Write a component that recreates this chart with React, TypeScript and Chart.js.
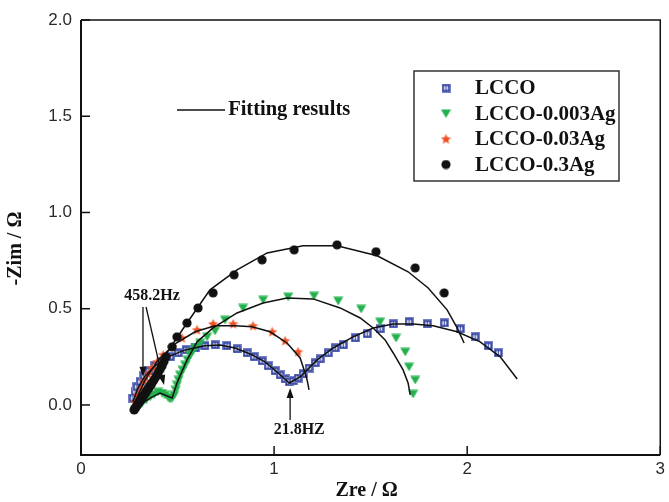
import React, { useEffect, useRef } from 'react';
import { Chart, registerables } from 'chart.js';

Chart.register(...registerables);

// ---------- axes ----------
const X_TICKS = [0, 1, 2, 3];
const X_TICK_LABELS = ['0', '1', '2', '3'];
const Y_TICKS = [0, 0.5, 1, 1.5, 2];
const Y_TICK_LABELS = ['0.0', '0.5', '1.0', '1.5', '2.0'];
const X_MIN = 0;
const X_MAX = 3;
const Y_MIN = -0.26;
const Y_MAX = 2.0;
const X_TITLE = 'Zre / Ω';
const Y_TITLE = '-Zim / Ω';

// ---------- series ----------
const SERIES_LABELS = ['LCCO', 'LCCO-0.003Ag', 'LCCO-0.03Ag', 'LCCO-0.3Ag'];

const LCCO_X = [0.269, 0.280, 0.290, 0.306, 0.326, 0.352, 0.383, 0.420, 0.461, 0.503, 0.544, 0.591, 0.642, 0.694, 0.756, 0.808, 0.860, 0.896, 0.938, 0.969, 1.005, 1.031, 1.057, 1.078, 1.098, 1.124, 1.150, 1.181, 1.212, 1.238, 1.280, 1.316, 1.358, 1.420, 1.482, 1.549, 1.617, 1.699, 1.793, 1.881, 1.964, 2.041, 2.109, 2.161];
const LCCO_Y = [0.036, 0.068, 0.094, 0.120, 0.151, 0.177, 0.203, 0.224, 0.250, 0.270, 0.286, 0.296, 0.307, 0.312, 0.307, 0.291, 0.270, 0.250, 0.229, 0.203, 0.177, 0.156, 0.135, 0.120, 0.125, 0.140, 0.161, 0.192, 0.218, 0.239, 0.270, 0.296, 0.312, 0.348, 0.369, 0.395, 0.421, 0.432, 0.421, 0.426, 0.395, 0.354, 0.307, 0.270];
const LCCO_FIT_X = [0.269, 0.295, 0.332, 0.383, 0.451, 0.539, 0.642, 0.720, 0.798, 0.876, 0.953, 1.021, 1.078, 1.135, 1.223, 1.306, 1.409, 1.513, 1.617, 1.720, 1.824, 1.948, 2.067, 2.171, 2.259];
const LCCO_FIT_Y = [0.016, 0.088, 0.151, 0.203, 0.250, 0.286, 0.307, 0.312, 0.296, 0.265, 0.224, 0.166, 0.114, 0.146, 0.234, 0.296, 0.354, 0.400, 0.421, 0.421, 0.411, 0.380, 0.328, 0.250, 0.135];

const AG003_X = [0.280, 0.295, 0.316, 0.337, 0.358, 0.378, 0.399, 0.420, 0.435, 0.451, 0.461, 0.472, 0.482, 0.490, 0.497, 0.505, 0.513, 0.526, 0.539, 0.552, 0.565, 0.578, 0.591, 0.617, 0.653, 0.694, 0.746, 0.839, 0.943, 1.073, 1.207, 1.332, 1.451, 1.549, 1.632, 1.679, 1.699, 1.731, 1.720];
const AG003_Y = [-0.026, -0.010, 0.010, 0.026, 0.042, 0.055, 0.068, 0.062, 0.052, 0.040, 0.031, 0.036, 0.052, 0.078, 0.104, 0.130, 0.156, 0.182, 0.208, 0.234, 0.260, 0.278, 0.296, 0.322, 0.354, 0.385, 0.442, 0.504, 0.546, 0.562, 0.567, 0.541, 0.499, 0.432, 0.348, 0.276, 0.198, 0.130, 0.057];
const AG003_FIT_X = [0.280, 0.358, 0.409, 0.472, 0.497, 0.549, 0.601, 0.684, 0.808, 0.943, 1.067, 1.202, 1.342, 1.446, 1.513, 1.575, 1.617, 1.668, 1.694, 1.705];
const AG003_FIT_Y = [-0.016, 0.036, 0.062, 0.036, 0.114, 0.234, 0.328, 0.400, 0.478, 0.530, 0.556, 0.551, 0.504, 0.452, 0.400, 0.338, 0.270, 0.182, 0.114, 0.052];

const AG03_X = [0.280, 0.295, 0.311, 0.326, 0.347, 0.368, 0.394, 0.425, 0.472, 0.523, 0.601, 0.684, 0.788, 0.891, 0.990, 1.057, 1.124];
const AG03_Y = [0.016, 0.052, 0.088, 0.125, 0.161, 0.192, 0.224, 0.260, 0.302, 0.348, 0.390, 0.421, 0.421, 0.411, 0.380, 0.333, 0.276];
const AG03_FIT_X = [0.280, 0.332, 0.399, 0.487, 0.591, 0.694, 0.798, 0.886, 0.979, 1.067, 1.135, 1.150, 1.171, 1.181];
const AG03_FIT_Y = [0.016, 0.130, 0.234, 0.317, 0.380, 0.411, 0.411, 0.406, 0.380, 0.322, 0.244, 0.198, 0.130, 0.078];

const AG3_X = [0.275, 0.280, 0.285, 0.290, 0.295, 0.300, 0.306, 0.311, 0.316, 0.321, 0.326, 0.332, 0.337, 0.342, 0.347, 0.352, 0.358, 0.363, 0.368, 0.378, 0.389, 0.399, 0.410, 0.420, 0.430, 0.440, 0.472, 0.497, 0.549, 0.606, 0.684, 0.793, 0.938, 1.104, 1.326, 1.528, 1.731, 1.881];
const AG3_Y = [-0.026, -0.018, -0.010, -0.003, 0.005, 0.012, 0.020, 0.028, 0.036, 0.044, 0.052, 0.060, 0.068, 0.076, 0.083, 0.091, 0.099, 0.107, 0.115, 0.130, 0.148, 0.166, 0.185, 0.203, 0.226, 0.250, 0.302, 0.354, 0.426, 0.504, 0.582, 0.676, 0.754, 0.806, 0.832, 0.796, 0.712, 0.582];
const AG3_FIT_X = [0.275, 0.332, 0.399, 0.461, 0.549, 0.668, 0.808, 0.964, 1.150, 1.326, 1.534, 1.694, 1.798, 1.896, 1.948, 1.984];
const AG3_FIT_Y = [-0.026, 0.078, 0.192, 0.296, 0.426, 0.598, 0.702, 0.790, 0.827, 0.827, 0.775, 0.692, 0.608, 0.494, 0.400, 0.322];

// ---------- annotations (data coordinates) ----------
const FIT_LABEL = 'Fitting results';
const FIT_LABEL_LINE = [[0.497, 1.533], [0.746, 1.533]];
const FIT_LABEL_POS = [0.762, 1.533];
const HZ1_LABEL = '458.2Hz';
const HZ1_POS = [0.368, 0.567];
const HZ1_ARROWS = [
  [[0.321, 0.509], [0.321, 0.146]],
  [[0.337, 0.509], [0.430, 0.104]],
];
const HZ2_LABEL = '21.8HZ';
const HZ2_POS = [1.130, -0.130];
const HZ2_ARROW = [[1.083, -0.078], [1.083, 0.088]];

const toPts = (xs: number[], ys: number[]) => xs.map((x, i) => ({ x, y: ys[i] }));

function makeMarkers() {
  const mk = (w: number, h: number, draw: (c: CanvasRenderingContext2D) => void) => {
    const c = document.createElement('canvas');
    c.width = w;
    c.height = h;
    const ctx = c.getContext('2d')!;
    draw(ctx);
    return c;
  };
  const square = mk(9, 9, (c) => {
    c.fillStyle = '#7682c8';
    c.fillRect(0, 0, 9, 9);
    c.fillStyle = '#2a3a9a';
    c.fillRect(1, 1, 7, 7);
    c.fillStyle = '#ffffff';
    c.fillRect(2.5, 2.5, 1.5, 4);
    c.fillRect(5, 2.5, 1.5, 4);
  });
  const tri = mk(11, 9, (c) => {
    c.fillStyle = '#22b14c';
    c.beginPath();
    c.moveTo(0.5, 0.5);
    c.lineTo(10.5, 0.5);
    c.lineTo(5.5, 9);
    c.closePath();
    c.fill();
  });
  const star = mk(11, 11, (c) => {
    c.fillStyle = '#f25022';
    c.beginPath();
    const cx = 5.5, cy = 5.8, R = 5.4, r = 2.4;
    for (let i = 0; i < 10; i++) {
      const a = -Math.PI / 2 + (i * Math.PI) / 5;
      const rr = i % 2 === 0 ? R : r;
      const px = cx + rr * Math.cos(a);
      const py = cy + rr * Math.sin(a);
      if (i === 0) c.moveTo(px, py);
      else c.lineTo(px, py);
    }
    c.closePath();
    c.fill();
  });
  const dot = mk(10, 10, (c) => {
    c.fillStyle = '#111111';
    c.beginPath();
    c.arc(5, 5, 4.6, 0, Math.PI * 2);
    c.fill();
  });
  return [square, tri, star, dot];
}

function arrow(ctx: CanvasRenderingContext2D, x1: number, y1: number, x2: number, y2: number) {
  const a = Math.atan2(y2 - y1, x2 - x1);
  const L = 10, W = 3.5;
  ctx.beginPath();
  ctx.moveTo(x1, y1);
  ctx.lineTo(x2 - (L - 2) * Math.cos(a), y2 - (L - 2) * Math.sin(a));
  ctx.stroke();
  ctx.beginPath();
  ctx.moveTo(x2, y2);
  ctx.lineTo(x2 - L * Math.cos(a) + W * Math.sin(a), y2 - L * Math.sin(a) - W * Math.cos(a));
  ctx.lineTo(x2 - L * Math.cos(a) - W * Math.sin(a), y2 - L * Math.sin(a) + W * Math.cos(a));
  ctx.closePath();
  ctx.fill();
}

export default function App() {
  const ref = useRef<HTMLCanvasElement>(null);

  useEffect(() => {
    const canvas = ref.current!;
    const markers = makeMarkers();
    const serif = '"Liberation Serif", "Times New Roman", serif';

    const overlay = {
      id: 'overlay',
      afterDraw(chart: any) {
        const { ctx, chartArea } = chart;
        const xs = chart.scales.x;
        const ys = chart.scales.y;
        const px = (v: number) => xs.getPixelForValue(v);
        const py = (v: number) => ys.getPixelForValue(v);
        const { left, right, top, bottom } = chartArea;
        ctx.save();
        ctx.strokeStyle = '#111';
        ctx.fillStyle = '#111';
        // frame
        ctx.lineWidth = 1.5;
        ctx.beginPath();
        ctx.moveTo(left, top);
        ctx.lineTo(right, top);
        ctx.lineTo(right, bottom);
        ctx.stroke();
        ctx.lineWidth = 2;
        ctx.beginPath();
        ctx.moveTo(left, top);
        ctx.lineTo(left, bottom);
        ctx.lineTo(right, bottom);
        ctx.stroke();
        // inward ticks
        ctx.lineWidth = 1.5;
        X_TICKS.forEach((v) => {
          const x = px(v);
          ctx.beginPath();
          ctx.moveTo(x, bottom);
          ctx.lineTo(x, bottom - 9);
          ctx.stroke();
        });
        Y_TICKS.forEach((v) => {
          const y = py(v);
          ctx.beginPath();
          ctx.moveTo(left, y);
          ctx.lineTo(left + 9, y);
          ctx.stroke();
        });
        // axis titles
        ctx.font = `bold 20px ${serif}`;
        ctx.textAlign = 'center';
        ctx.textBaseline = 'middle';
        ctx.fillText(X_TITLE, (left + right) / 2 - 4, 491);
        ctx.save();
        ctx.translate(16, (top + bottom) / 2 + 11);
        ctx.rotate(-Math.PI / 2);
        ctx.fillText(Y_TITLE, 0, 0);
        ctx.restore();
        // fitting results label
        ctx.lineWidth = 1.5;
        ctx.beginPath();
        ctx.moveTo(px(FIT_LABEL_LINE[0][0]), py(FIT_LABEL_LINE[0][1]));
        ctx.lineTo(px(FIT_LABEL_LINE[1][0]), py(FIT_LABEL_LINE[1][1]));
        ctx.stroke();
        ctx.textAlign = 'left';
        ctx.font = `bold 20.5px ${serif}`;
        ctx.fillText(FIT_LABEL, px(FIT_LABEL_POS[0]), py(FIT_LABEL_POS[1]));
        // frequency annotations
        ctx.font = `bold 16px ${serif}`;
        ctx.textAlign = 'center';
        ctx.fillText(HZ1_LABEL, px(HZ1_POS[0]), py(HZ1_POS[1]));
        ctx.fillText(HZ2_LABEL, px(HZ2_POS[0]), py(HZ2_POS[1]));
        ctx.lineWidth = 1.3;
        HZ1_ARROWS.forEach(([a, b]) => arrow(ctx, px(a[0]), py(a[1]), px(b[0]), py(b[1])));
        arrow(ctx, px(HZ2_ARROW[0][0]), py(HZ2_ARROW[0][1]), px(HZ2_ARROW[1][0]), py(HZ2_ARROW[1][1]));
        // legend
        const bx = left + 333, by = top + 51, bw = 205, bh = 110;
        ctx.lineWidth = 1.5;
        ctx.strokeStyle = '#333';
        ctx.strokeRect(bx, by, bw, bh);
        ctx.font = `bold 21px ${serif}`;
        ctx.textAlign = 'left';
        ctx.fillStyle = '#111';
        SERIES_LABELS.forEach((lab, i) => {
          const cy = by + 17 + i * 25.5;
          const m = markers[i];
          ctx.drawImage(m, bx + 32 - m.width / 2, cy - m.height / 2);
          ctx.fillText(lab, bx + 61, cy + 1);
        });
        ctx.restore();
      },
    };

    const fitStyle = {
      showLine: true,
      pointRadius: 0,
      borderColor: '#111',
      borderWidth: 1.5,
      tension: 0,
      fill: false,
      order: 0,
    };

    const chart = new Chart(canvas, {
      type: 'scatter',
      data: {
        datasets: [
          { label: SERIES_LABELS[0] + ' fit', data: toPts(LCCO_FIT_X, LCCO_FIT_Y), ...fitStyle },
          { label: SERIES_LABELS[1] + ' fit', data: toPts(AG003_FIT_X, AG003_FIT_Y), ...fitStyle },
          { label: SERIES_LABELS[2] + ' fit', data: toPts(AG03_FIT_X, AG03_FIT_Y), ...fitStyle },
          { label: SERIES_LABELS[3] + ' fit', data: toPts(AG3_FIT_X, AG3_FIT_Y), ...fitStyle },
          { label: SERIES_LABELS[3], data: toPts(AG3_X, AG3_Y), pointStyle: markers[3], pointRadius: 5, showLine: false, order: 1 },
          { label: SERIES_LABELS[2], data: toPts(AG03_X, AG03_Y), pointStyle: markers[2], pointRadius: 5, showLine: false, order: 2 },
          { label: SERIES_LABELS[1], data: toPts(AG003_X, AG003_Y), pointStyle: markers[1], pointRadius: 5, showLine: false, order: 3 },
          { label: SERIES_LABELS[0], data: toPts(LCCO_X, LCCO_Y), pointStyle: markers[0], pointRadius: 5, showLine: false, order: 4 },
        ] as any,
      },
      options: {
        animation: false,
        responsive: false,
        devicePixelRatio: 1,
        layout: { padding: { top: 20, right: 8, left: 0, bottom: 0 } },
        plugins: {
          legend: { display: false },
          tooltip: { enabled: false },
          title: { display: false },
        },
        scales: {
          x: {
            type: 'linear',
            min: X_MIN,
            max: X_MAX,
            afterBuildTicks: (s: any) => {
              s.ticks = X_TICKS.map((v) => ({ value: v }));
            },
            afterFit: (s: any) => {
              s.height = 47;
            },
            ticks: {
              callback: (v: any) => X_TICK_LABELS[X_TICKS.indexOf(Number(v))] ?? '',
              font: { family: '"Liberation Sans", Arial, sans-serif', size: 17 },
              color: '#2a2a2a',
              padding: 4,
              maxRotation: 0,
            },
            grid: { display: false, drawTicks: false },
            border: { display: false },
          },
          y: {
            type: 'linear',
            min: Y_MIN,
            max: Y_MAX,
            afterBuildTicks: (s: any) => {
              s.ticks = Y_TICKS.map((v) => ({ value: v }));
            },
            afterFit: (s: any) => {
              s.width = 81;
            },
            ticks: {
              callback: (v: any) => Y_TICK_LABELS[Y_TICKS.indexOf(Number(v))] ?? '',
              font: { family: '"Liberation Sans", Arial, sans-serif', size: 17 },
              color: '#2a2a2a',
              padding: 9,
            },
            grid: { display: false, drawTicks: false },
            border: { display: false },
          },
        },
      } as any,
      plugins: [overlay],
    });

    return () => chart.destroy();
  }, []);

  return (
    <div style={{ position: 'absolute', left: 0, top: 0, width: 669, height: 502, background: '#fff' }}>
      <canvas ref={ref} width={669} height={502} style={{ display: 'block', width: 669, height: 502 }} />
    </div>
  );
}
